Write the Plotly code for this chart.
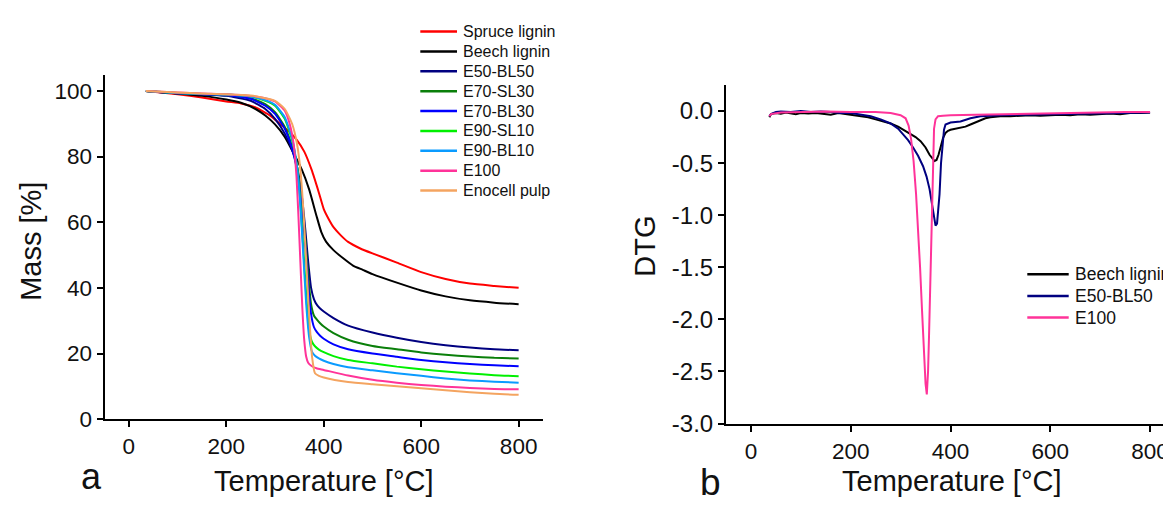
import plotly.graph_objects as go

W, H = 1171, 505
FONT = "Liberation Sans, Arial, Helvetica, sans-serif"

# ---------------- Panel a: TGA mass curves ----------------
spruce_T = [35, 60, 100, 150, 200, 230, 260, 290, 310, 330, 345, 360, 375, 390, 400, 410, 420, 435, 450, 475, 500, 550, 600, 650, 700, 750, 800]
spruce_M = [100, 99.6, 99, 98, 96.8, 96.2, 95, 92.5, 90, 87.5, 85, 81.5, 76, 69, 64, 61, 58.5, 56, 54, 52, 50.5, 47.7, 44.8, 42.7, 41.3, 40.6, 40]

beech_T = [35, 100, 150, 200, 230, 260, 280, 300, 320, 340, 355, 370, 385, 395, 405, 420, 440, 460, 480, 500, 550, 600, 650, 700, 750, 800]
beech_M = [100, 99.2, 98.5, 97.4, 96.4, 94.5, 92.5, 89.8, 86, 80.5, 76, 70, 62, 57, 54, 51.5, 49, 46.8, 45.5, 44.2, 41.6, 39.2, 37.4, 36.2, 35.5, 35]

grid_T = [35, 100, 150, 200, 250, 280, 300, 320, 335, 345, 355, 362, 368, 374, 380, 386, 392, 400, 420, 450, 500, 550, 600, 650, 700, 750, 800]
e50bl50_M = [100, 99.3, 99, 98.5, 97, 94.5, 91.5, 87, 82, 77, 68, 58, 48, 40, 36.5, 34.8, 33.8, 32.8, 30.8, 28.5, 26.4, 24.8, 23.5, 22.5, 21.8, 21.3, 21]
e70sl30_M = [100, 99.3, 99, 98.7, 97.8, 96, 93.5, 89, 83, 77, 66, 55, 44, 35, 31.5, 30.3, 29.3, 28.2, 26.2, 24.2, 22.3, 21.3, 20.3, 19.6, 19.1, 18.7, 18.5]
e70bl30_M = [100, 99.3, 99, 98.7, 97.6, 95.5, 93, 88.5, 82.5, 76, 65, 53, 41, 32, 28, 26.5, 25.5, 24.5, 22.8, 21.3, 20, 19, 18, 17.3, 16.8, 16.4, 16.1]

grid2_T = [35, 100, 150, 200, 250, 280, 300, 320, 335, 345, 352, 358, 364, 370, 376, 382, 390, 400, 420, 450, 500, 550, 600, 650, 700, 750, 800]
e90sl10_M = [100, 99.4, 99.1, 98.9, 98.3, 97, 95.5, 91.5, 85, 77, 66, 52, 38, 27, 23.5, 22.2, 21.2, 20.4, 19.2, 18, 17, 16, 15.2, 14.5, 13.9, 13.4, 13.1]
e90bl10_M = [100, 99.4, 99.1, 98.9, 98.3, 97.2, 95.8, 92, 85.5, 77, 65, 50, 35, 25, 20.5, 19.3, 18.5, 17.8, 16.8, 15.8, 14.9, 14, 13.2, 12.4, 11.8, 11.4, 11.1]

e100_T = [35, 100, 150, 200, 250, 280, 300, 320, 330, 338, 344, 348, 352, 356, 360, 364, 368, 375, 385, 400, 450, 500, 550, 600, 650, 700, 750, 800]
e100_M = [100, 99.5, 99.2, 99, 98.5, 97.8, 96.8, 94, 90, 84, 74, 62, 48, 34, 24, 19, 17.2, 16.2, 15.5, 15, 13.3, 12, 11.1, 10.4, 9.9, 9.5, 9.2, 9.1]

enocell_T = [35, 100, 150, 200, 250, 280, 300, 320, 335, 345, 352, 358, 364, 370, 376, 382, 390, 400, 450, 500, 550, 600, 650, 700, 750, 800]
enocell_M = [100, 99.5, 99.2, 99, 98.6, 97.8, 97, 94.5, 90, 84, 76, 64, 48, 32, 19, 14, 13.2, 12.7, 11.3, 10.6, 10, 9.4, 8.8, 8.2, 7.7, 7.4]

tga_names = ["Spruce lignin", "Beech lignin", "E50-BL50", "E70-SL30", "E70-BL30",
             "E90-SL10", "E90-BL10", "E100", "Enocell pulp"]
tga_colors = ["#FF0000", "#000000", "#000080", "#0A7F0A", "#0000FF",
              "#00F000", "#0A9BFF", "#FF3399", "#F4A460"]
tga_x = [spruce_T, beech_T, grid_T, grid_T, grid_T, grid2_T, grid2_T, e100_T, enocell_T]
tga_y = [spruce_M, beech_M, e50bl50_M, e70sl30_M, e70bl30_M, e90sl10_M, e90bl10_M, e100_M, enocell_M]

# ---------------- Panel b: DTG curves ----------------
dtg_beech_T = [37, 40, 50, 60, 70, 80, 90, 100, 115, 130, 145, 160, 175, 190, 205, 220, 235, 250, 265, 280, 295, 310, 320, 330, 340, 350, 358, 364, 368, 372, 376, 380, 385, 390, 395, 400, 410, 420, 430, 440, 450, 460, 470, 480, 500, 520, 540, 560, 580, 600, 620, 640, 660, 680, 700, 720, 740, 760, 780, 800]
dtg_beech_D = [-0.06, -0.03, -0.02, -0.025, -0.015, -0.02, -0.03, -0.02, -0.025, -0.02, -0.03, -0.035, -0.02, -0.03, -0.04, -0.05, -0.06, -0.08, -0.1, -0.12, -0.15, -0.19, -0.22, -0.25, -0.29, -0.35, -0.42, -0.46, -0.48, -0.47, -0.42, -0.35, -0.26, -0.21, -0.19, -0.18, -0.17, -0.16, -0.15, -0.13, -0.11, -0.085, -0.07, -0.06, -0.05, -0.05, -0.045, -0.04, -0.045, -0.04, -0.035, -0.04, -0.03, -0.035, -0.03, -0.025, -0.03, -0.02, -0.02, -0.015]

dtg_e50_T = [37, 40, 50, 60, 80, 100, 120, 140, 160, 180, 200, 220, 240, 260, 280, 295, 305, 315, 325, 335, 345, 352, 358, 363, 367, 370, 373, 376, 378, 381, 384, 387, 390, 400, 420, 440, 460, 480, 500, 550, 600, 650, 700, 750, 800]
dtg_e50_D = [-0.05, -0.03, -0.01, -0.005, -0.01, 0.0, -0.01, -0.005, -0.01, -0.02, -0.02, -0.035, -0.05, -0.08, -0.12, -0.17, -0.22, -0.28, -0.35, -0.43, -0.53, -0.63, -0.75, -0.88, -1.0, -1.1, -1.08, -0.95, -0.8, -0.5, -0.3, -0.18, -0.13, -0.11, -0.1, -0.07, -0.05, -0.045, -0.04, -0.035, -0.03, -0.03, -0.02, -0.02, -0.015]

dtg_e100_T = [37, 40, 60, 100, 150, 200, 250, 280, 300, 310, 316, 321, 326, 331, 335, 339, 343, 347, 350, 352.5, 355, 357, 359, 361, 363, 365, 367, 370, 375, 385, 400, 450, 500, 550, 600, 650, 700, 750, 800]
dtg_e100_D = [-0.05, -0.03, -0.015, -0.01, -0.005, -0.01, -0.01, -0.02, -0.04, -0.07, -0.14, -0.27, -0.48, -0.8, -1.12, -1.5, -1.92, -2.35, -2.62, -2.72, -2.5, -2.15, -1.72, -1.25, -0.8, -0.42, -0.17, -0.08, -0.05, -0.045, -0.04, -0.035, -0.03, -0.025, -0.02, -0.02, -0.015, -0.01, -0.01]

dtg_names = ["Beech lignin", "E50-BL50", "E100"]
dtg_colors = ["#000000", "#000080", "#FF3399"]
dtg_x = [dtg_beech_T, dtg_e50_T, dtg_e100_T]
dtg_y = [dtg_beech_D, dtg_e50_D, dtg_e100_D]

x_ticks = [0, 200, 400, 600, 800]
mass_ticks = [0, 20, 40, 60, 80, 100]
dtg_ticks = [0.0, -0.5, -1.0, -1.5, -2.0, -2.5, -3.0]
dtg_ticktext = ["0.0", "-0.5", "-1.0", "-1.5", "-2.0", "-2.5", "-3.0"]

fig = go.Figure()
for name, xs, ys, c in zip(tga_names, tga_x, tga_y, tga_colors):
    fig.add_trace(go.Scatter(x=xs, y=ys, mode="lines", name=name,
                             line=dict(color=c, width=2, shape="spline", smoothing=0.5),
                             xaxis="x", yaxis="y", showlegend=False))
for name, xs, ys, c in zip(dtg_names, dtg_x, dtg_y, dtg_colors):
    fig.add_trace(go.Scatter(x=xs, y=ys, mode="lines", name=name,
                             line=dict(color=c, width=2),
                             xaxis="x2", yaxis="y2", showlegend=False))


def px(x):
    return x / W


def py(y):
    return (H - y) / H


def axis_style(size):
    return dict(showline=True, linewidth=2, linecolor="black", ticks="outside",
                ticklen=6, tickwidth=2, tickcolor="black", showgrid=False,
                zeroline=False, tickfont=dict(family=FONT, size=size, color="#111111"))


fig.update_layout(
    width=W, height=H, margin=dict(l=0, r=0, t=0, b=0),
    paper_bgcolor="white", plot_bgcolor="white", showlegend=False,
    xaxis=dict(domain=[px(96.5), px(535)], range=[-50, 850], tickvals=x_ticks,
               anchor="y", **axis_style(22.5)),
    yaxis=dict(domain=[py(422), py(68.3)], range=[0, 105], tickvals=mass_ticks,
               anchor="x", **axis_style(22.5)),
    xaxis2=dict(domain=[px(718), px(1167)], range=[-50, 850], tickvals=x_ticks,
                anchor="y2", **axis_style(22.5)),
    yaxis2=dict(domain=[py(426.5), py(79)], range=[-3.0, 0.25], tickvals=dtg_ticks,
                ticktext=dtg_ticktext, anchor="x2", **axis_style(24)),
)

annotations = []
shapes = []
# axis titles and panel letters
annotations.append(dict(text="Mass [%]", x=px(23), y=py(240), xref="paper", yref="paper",
                        textangle=-90, showarrow=False, xanchor="center", yanchor="middle",
                        font=dict(family=FONT, size=29, color="#111111")))
annotations.append(dict(text="DTG", x=px(637), y=py(245), xref="paper", yref="paper",
                        textangle=-90, showarrow=False, xanchor="center", yanchor="middle",
                        font=dict(family=FONT, size=29, color="#111111")))
annotations.append(dict(text="Temperature [°C]", x=px(315.5), y=py(485), xref="paper", yref="paper",
                        showarrow=False, xanchor="center", yanchor="middle",
                        font=dict(family=FONT, size=29, color="#111111")))
annotations.append(dict(text="Temperature [°C]", x=px(944), y=py(485), xref="paper", yref="paper",
                        showarrow=False, xanchor="center", yanchor="middle",
                        font=dict(family=FONT, size=29, color="#111111")))
annotations.append(dict(text="a", x=px(83), y=py(480.5), xref="paper", yref="paper",
                        showarrow=False, xanchor="center", yanchor="middle",
                        font=dict(family=FONT, size=36, color="#111111")))
annotations.append(dict(text="b", x=px(702), y=py(487), xref="paper", yref="paper",
                        showarrow=False, xanchor="center", yanchor="middle",
                        font=dict(family=FONT, size=37, color="#111111")))

# legend of panel a
for i, (name, c) in enumerate(zip(tga_names, tga_colors)):
    yy = 24.2 + i * 20.4
    shapes.append(dict(type="line", xref="paper", yref="paper", x0=px(412.3), x1=px(449),
                       y0=py(yy), y1=py(yy), line=dict(color=c, width=2.5)))
    annotations.append(dict(text=name, x=px(452.5), y=py(yy), xref="paper", yref="paper",
                            showarrow=False, xanchor="left", yanchor="middle",
                            font=dict(family=FONT, size=16, color="#111111")))
# legend of panel b
for i, (name, c) in enumerate(zip(dtg_names, dtg_colors)):
    yy = 273.3 + i * 22.2
    shapes.append(dict(type="line", xref="paper", yref="paper", x0=px(1019.3), x1=px(1060.7),
                       y0=py(yy), y1=py(yy), line=dict(color=c, width=2.5)))
    annotations.append(dict(text=name, x=px(1065), y=py(yy), xref="paper", yref="paper",
                            showarrow=False, xanchor="left", yanchor="middle",
                            font=dict(family=FONT, size=17.5, color="#111111")))

fig.update_layout(annotations=annotations, shapes=shapes)
fig.write_html("out.html")
